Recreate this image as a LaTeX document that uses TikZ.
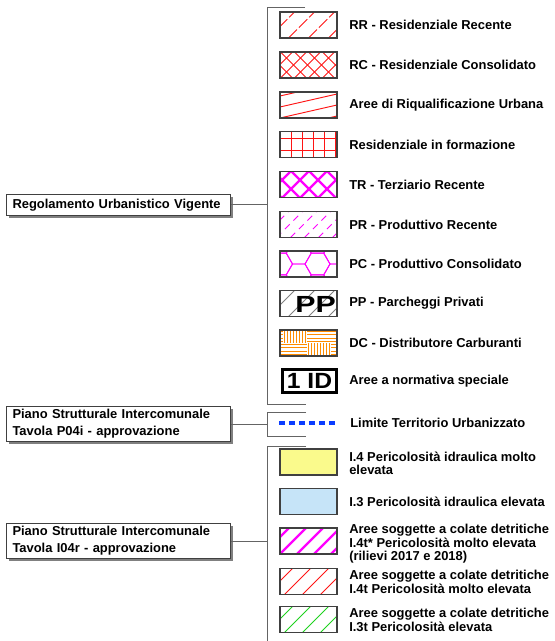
\documentclass[tikz,border=0pt]{standalone}
\usepackage{fontspec}
\setmainfont{Liberation Sans}
\usetikzlibrary{shadows}
\definecolor{hred}{RGB}{255,20,20}
\definecolor{hmag}{RGB}{255,0,255}
\definecolor{horange}{RGB}{255,140,0}
\definecolor{hgreen}{RGB}{30,210,30}
\definecolor{hyellow}{RGB}{250,250,140}
\definecolor{hblue}{RGB}{198,228,248}
\definecolor{hdash}{RGB}{10,60,255}
\definecolor{bracketgray}{RGB}{100,100,100}
\newcommand\legfont{\bfseries\fontsize{9.7}{10.1}\selectfont}
\newcommand\boxfont{\bfseries\fontsize{9.7}{12.75}\selectfont}
\newcommand\inswatch[1]{\begin{scope}[shift={(path picture bounding box.center)}]#1\end{scope}}
\begin{document}
\begin{tikzpicture}[x=0.75pt,y=-0.75pt,
  swatch/.style={draw=black!75, line width=0.9pt, minimum width=42.75pt, minimum height=19.5pt, inner sep=0pt, fill=white},
  legtext/.style={anchor=west, inner sep=0pt, font=\legfont, align=left},
  bracket/.style={draw=bracketgray, line width=0.75pt},
  titlebox/.style={draw=black!75, fill=white, line width=0.75pt, anchor=north west, inner xsep=4.5pt, inner ysep=0pt,
     text width=159pt, align=left, font=\boxfont,
     drop shadow={shadow xshift=2.2pt, shadow yshift=-2.2pt, fill=black!50, opacity=1}},
  pat/.style={line width=0.7pt},
]
\useasboundingbox (0,0) rectangle (555,641);
\fill[white] (0,0) rectangle (555,641);

% ---------- brackets ----------
\coordinate (g1t) at (305,8);   \coordinate (g1a) at (267,8);
\coordinate (g1b) at (267,404); \coordinate (g1e) at (306,404);
\coordinate (g2t) at (306,412); \coordinate (g2a) at (267,412);
\coordinate (g2b) at (267,436); \coordinate (g2e) at (306,436);
\coordinate (g3t) at (306,446); \coordinate (g3a) at (267,446);
\coordinate (g3b) at (267,641);
\draw[bracket] (g1t) -- (g1a) -- (g1b) -- (g1e);
\draw[bracket] (g2t) -- (g2a) -- (g2b) -- (g2e);
\draw[bracket] (g3t) -- (g3a) -- (g3b);

% ---------- title boxes ----------
\node[titlebox, minimum height=15.75pt] (rb) at (6,194) {\mbox{Regolamento Urbanistico Vigente}};
\node[titlebox, minimum height=26.25pt] (pb1) at (6,406) {\mbox{Piano Strutturale Intercomunale}\\\mbox{Tavola P04i - approvazione}};
\node[titlebox, minimum height=26.25pt] (pb2) at (6,523) {\mbox{Piano Strutturale Intercomunale}\\\mbox{Tavola I04r - approvazione}};
\draw[bracket] (rb.east) -- (rb.east -| g1a);
\draw[bracket] (pb1.east) -- (pb1.east -| g2a);
\draw[bracket] (pb2.east) -- (pb2.east -| g3a);

% ---------- group 1 swatches ----------
\node[swatch, path picture={\inswatch{\foreach \a in {-60,-40,...,40} \draw[hred,pat,dash pattern=on 9pt off 2pt] (\a,13)--(\a+26,-13);}}] (rr) at (308.5,25) {};
\node[legtext] (trr) at (349,25) {RR - Residenziale Recente};

\node[swatch, path picture={\inswatch{\foreach \a in {-70,-56,...,42} {\draw[hred,pat] (\a,13)--(\a+26,-13); \draw[hred,pat] (\a,-13)--(\a+26,13);}}}] (rc) at (308.5,65) {};
\node[legtext] (trc) at (349,65) {RC - Residenziale Consolidato};

\node[swatch, path picture={\inswatch{\foreach \b in {-20,-9,...,45} \draw[hred,pat] (-28.5,\b)--(28.5,\b-13);}}] (aru) at (308.5,105) {};
\node[legtext] (taru) at (349,105) {Aree di Riqualificazione Urbana};

\node[swatch, path picture={\inswatch{\foreach \a in {-17.5,-6.5,4.5,15.5,26.5} \draw[hred,pat] (\a,-13)--(\a,13);
   \foreach \b in {-6,6} \draw[hred,pat] (-28.5,\b)--(28.5,\b);}}] (rif) at (308.5,144.5) {};
\node[legtext] (trif) at (349,144.5) {Residenziale in formazione};

\node[swatch, path picture={\inswatch{\foreach \a in {-80,-62,...,40} {\draw[hmag,line width=1.7pt] (\a,13)--(\a+26,-13); \draw[hmag,line width=1.7pt] (\a+9,-13)--(\a+35,13);}}}] (tr) at (308.5,184.5) {};
\node[legtext] (ttr) at (349,184.5) {TR - Terziario Recente};

\node[swatch, path picture={\inswatch{\foreach \a in {-60,-46,...,40} \draw[hmag,pat,dash pattern=on 5pt off 4pt] (\a,13)--(\a+26,-13);}}] (pr) at (308.5,224.5) {};
\node[legtext] (tpr) at (349,224.5) {PR - Produttivo Recente};

\node[swatch, path picture={\inswatch{\foreach \c in {-2,...,2} \foreach \k in {-1,0,1} {
     \pgfmathsetmacro\hx{9+18.75*\c} \pgfmathsetmacro\hy{mod(abs(\c),2)*10.825+21.65*\k}
     \draw[hmag,pat] (\hx,\hy) ++(12.5,0) -- ++(-6.25,10.825) -- ++(-12.5,0) -- ++(-6.25,-10.825) -- ++(6.25,-10.825) -- ++(12.5,0) -- cycle;}}}] (pc) at (308.5,264) {};
\node[legtext] (tpc) at (349,264) {PC - Produttivo Consolidato};

\node[swatch, path picture={\inswatch{\foreach \a in {-60,-40,...,40} \draw[gray,pat] (\a,13)--(\a+26,-13);
     \node[inner sep=0pt, font=\bfseries\fontsize{17.5}{17.5}\selectfont] at (7,1) {\scalebox{1.3}[1]{PP}};}}] (pp) at (308.5,303.5) {};
\node[legtext] (tpp) at (349,303.5) {PP - Parcheggi Privati};

\node[swatch, path picture={\inswatch{
     \foreach \yy in {-11.4,-8.2,-5,-1.8} \draw[horange,pat] (-28.5,\yy)--(-25.5,\yy) (-1.5,\yy)--(28.5,\yy);
     \foreach \xx in {-24,-21,...,-3} \draw[horange,pat] (\xx,-13)--(\xx,0);
     \foreach \yy in {1.6,4.8,8,11.2} \draw[horange,pat] (-28.5,\yy)--(-1.5,\yy) (22.5,\yy)--(28.5,\yy);
     \foreach \xx in {0,3,...,21} \draw[horange,pat] (\xx,0)--(\xx,13);}}] (dc) at (308.5,343) {};
\node[legtext] (tdc) at (349,343) {DC - Distributore Carburanti};

\node[swatch, draw=black, line width=2.2pt, minimum width=40.5pt, minimum height=17.25pt, font=\bfseries\fontsize{16.5}{16.5}\selectfont] (id) at (309.5,381) {\scalebox{1.12}[1]{1 ID}};
\node[legtext] (tid) at (349,381) {Aree a normativa speciale};

% ---------- group 2 ----------
\coordinate (ds) at (279,423); \coordinate (de) at (337,423);
\draw[hdash, line width=3pt, dash pattern=on 4.5pt off 3pt] (ds) -- (de);
\node[legtext] (tlt) at (350,423) {Limite Territorio Urbanizzato};

% ---------- group 3 ----------
\node[swatch, fill=hyellow] (i4) at (308.5,462) {};
\node[legtext] (ti4) at (349,463.5) {I.4 Pericolosità idraulica molto\\elevata};

\node[swatch, fill=hblue] (i3) at (308.5,501.5) {};
\node[legtext] (ti3) at (349,501.5) {I.3 Pericolosità idraulica elevata};

\node[swatch, path picture={\inswatch{\foreach \a in {-62.5,-45.5,...,40} \draw[hmag,line width=1.8pt] (\a,13)--(\a+26,-13);}}] (i4ts) at (308.5,541) {};
\node[legtext] (ti4ts) at (349,544) {Aree soggette a colate detritiche\\I.4t* Pericolosità molto elevata\\(rilievi 2017 e 2018)};

\node[swatch, path picture={\inswatch{\foreach \a in {-60,-42,...,40} \draw[hred,pat] (\a,13)--(\a+26,-13);}}] (i4t) at (308.5,581.5) {};
\node[legtext] (ti4t) at (349,582) {Aree soggette a colate detritiche\\I.4t Pericolosità molto elevata};

\node[swatch, path picture={\inswatch{\foreach \a in {-60,-42,...,40} \draw[hgreen,pat] (\a,13)--(\a+26,-13);}}] (i3t) at (308.5,619.5) {};
\node[legtext] (ti3t) at (349,620) {Aree soggette a colate detritiche\\I.3t Pericolosità elevata};
\end{tikzpicture}
\end{document}
